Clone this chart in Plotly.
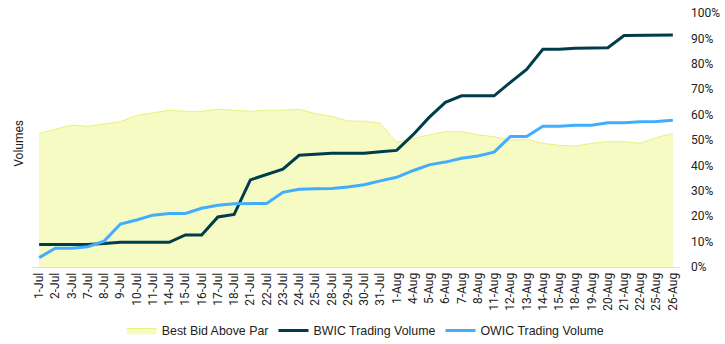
import plotly.graph_objects as go

dates = ["1-Jul", "2-Jul", "3-Jul", "7-Jul", "8-Jul", "9-Jul", "10-Jul", "11-Jul", "14-Jul", "15-Jul",
         "16-Jul", "17-Jul", "18-Jul", "21-Jul", "22-Jul", "23-Jul", "24-Jul", "25-Jul", "28-Jul", "29-Jul",
         "30-Jul", "31-Jul", "1-Aug", "4-Aug", "5-Aug", "6-Aug", "7-Aug", "8-Aug", "11-Aug", "12-Aug",
         "13-Aug", "14-Aug", "15-Aug", "18-Aug", "19-Aug", "20-Aug", "21-Aug", "22-Aug", "25-Aug", "26-Aug"]

best_bid_above_par = [52.6, 54.2, 55.9, 55.4, 56.2, 57.2, 59.7, 60.6, 61.7, 61.3,
                      61.3, 62.1, 61.7, 61.3, 61.7, 61.7, 62.1, 60.4, 59.3, 57.5,
                      57.4, 56.6, 49.1, 50.7, 52.0, 53.3, 53.3, 52.0, 51.3, 50.0,
                      50.3, 48.7, 47.9, 47.6, 48.7, 49.3, 49.3, 48.7, 51.0, 52.6]

bwic_volume = [8.9, 8.9, 8.9, 8.9, 9.3, 9.7, 9.7, 9.7, 9.7, 12.6,
               12.6, 19.7, 20.7, 34.3, 36.5, 38.5, 44.0, 44.4, 44.8, 44.8,
               44.8, 45.4, 45.9, 52.0, 58.9, 64.8, 67.4, 67.4, 67.4, 72.7,
               77.8, 85.7, 85.7, 86.1, 86.3, 86.3, 91.1, 91.1, 91.1, 91.3]

owic_volume = [3.7, 7.4, 7.4, 8.0, 10.2, 16.9, 18.5, 20.4, 21.1, 21.1,
               23.1, 24.3, 24.9, 25.0, 25.0, 29.4, 30.6, 30.8, 30.9, 31.5,
               32.4, 33.9, 35.3, 37.9, 40.2, 41.3, 42.8, 43.7, 45.2, 51.4,
               51.4, 55.4, 55.4, 55.8, 55.8, 56.8, 56.8, 57.2, 57.3, 57.8]

pct_ticks = [0, 10, 20, 30, 40, 50, 60, 70, 80, 90, 100]

font_family = "Roboto, Arial, sans-serif"
legend_family = "Liberation Sans, Arial, sans-serif"
text_color = "#222222"

fig = go.Figure()

# Area (percent) on the primary axis, shown on the right
fig.add_trace(go.Scatter(
    x=dates, y=[v / 100 for v in best_bid_above_par], name="Best Bid Above Par",
    mode="lines", fill="tozeroy", yaxis="y",
    line=dict(color="#e9f17e", width=1), fillcolor="#f6fac3",
))
# Volumes on the overlaying axis (left, no tick labels) so lines draw above the area
fig.add_trace(go.Scatter(
    x=dates, y=bwic_volume, name="BWIC Trading Volume", mode="lines", yaxis="y2",
    line=dict(color="#003d4c", width=3),
))
fig.add_trace(go.Scatter(
    x=dates, y=owic_volume, name="OWIC Trading Volume", mode="lines", yaxis="y2",
    line=dict(color="#42adfc", width=3),
))

fig.update_layout(
    width=725, height=344,
    margin=dict(l=32, r=45, t=13, b=77, autoexpand=False),
    paper_bgcolor="white", plot_bgcolor="white",
    font=dict(family=font_family, size=12, color=text_color),
    showlegend=True,
    legend=dict(orientation="h", x=0.515, xanchor="center", y=-0.252, yanchor="middle",
                font=dict(family=legend_family, size=12.4, color=text_color),
                traceorder="normal", tracegroupgap=0),
    xaxis=dict(
        type="category", range=[-0.44, 39.44], tickangle=-90, automargin=False,
        showgrid=False, zeroline=False, showline=True, linecolor="#bdebf5", linewidth=1,
        ticks="", tickfont=dict(size=12, color=text_color),
    ),
    yaxis=dict(
        range=[0, 1], side="right", tickvals=[v / 100 for v in pct_ticks],
        ticktext=[f"{v}%" for v in pct_ticks], showgrid=False, zeroline=False,
        showline=False, ticks="", ticklabelstandoff=10, automargin=False,
        tickfont=dict(size=12, color=text_color),
    ),
    yaxis2=dict(
        range=[0, 100], overlaying="y", side="left", showticklabels=False,
        showgrid=False, zeroline=False, showline=False, ticks="", automargin=False,
    ),
    annotations=[dict(
        text="Volumes", textangle=-90, xref="paper", yref="paper",
        x=-0.0193, y=0.487, xanchor="center", yanchor="middle", showarrow=False,
        font=dict(size=12, color=text_color),
    )],
)

fig.write_html("out.html")
